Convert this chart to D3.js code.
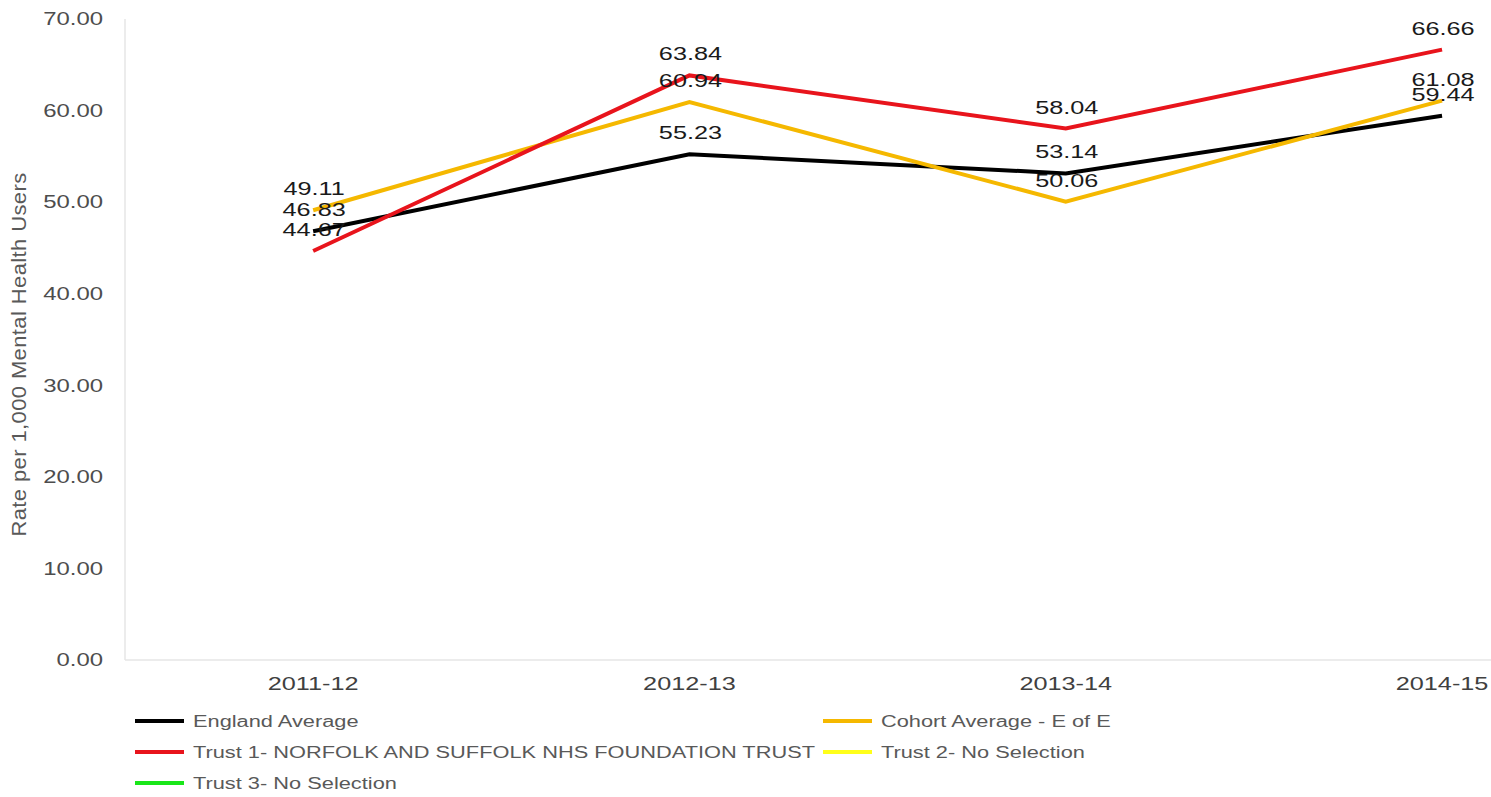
<!DOCTYPE html>
<html>
<head>
<meta charset="utf-8">
<script src="https://cdn.jsdelivr.net/npm/d3@7"></script>
<style>
  html, body { margin: 0; padding: 0; background: #fff; }
  svg { display: block; font-family: "Liberation Sans", Arial, Helvetica, sans-serif; }
</style>
</head>
<body>
<svg id="chart" width="1491" height="797"></svg>
<script>
// Years on the category axis
const years = ["2011-12", "2012-13", "2013-14", "2014-15"];

// Rate per 1,000 mental health users, by series
const englandAverage = [46.83, 55.23, 53.14, 59.44];
const trust1 = [44.67, 63.84, 58.04, 66.66];
const cohortAverage = [49.11, 60.94, 50.06, 61.08];
const trust2 = [];
const trust3 = [];

// Value axis ticks
const yTicks = [0, 10, 20, 30, 40, 50, 60, 70];

const seriesNames = [
  "England Average",
  "Cohort Average - E of E",
  "Trust 1- NORFOLK AND SUFFOLK NHS FOUNDATION TRUST",
  "Trust 2- No Selection",
  "Trust 3- No Selection"
];
const seriesColors = ["#000000", "#f5b800", "#e8141c", "#ffff1a", "#19e619"];
const seriesValues = [englandAverage, cohortAverage, trust1, trust2, trust3];

const series = seriesNames.map((name, i) => ({
  name,
  color: seriesColors[i],
  values: seriesValues[i].map((v, j) => ({ year: years[j], value: v }))
}));

const svg = d3.select("#chart");

const plotLeft = 125, plotTop = 19, plotBottom = 660;
const bandStep = 376.3;
// Horizontal text stretch used throughout the chart's lettering
const SX = 1.33;

// Widen text horizontally while keeping its anchor point in place
function widen(sel) {
  sel.each(function () {
    const t = d3.select(this);
    const x0 = +t.attr("x") || 0;
    t.attr("x", x0 / SX).attr("transform", `scale(${SX},1)`);
  });
}

const x = d3.scaleBand()
  .domain(years)
  .range([plotLeft, plotLeft + bandStep * years.length])
  .padding(0);
const xc = d => x(d) + x.bandwidth() / 2;

const y = d3.scaleLinear().domain([0, 70]).range([plotBottom, plotTop]);

// Axis frame lines
svg.append("line")
  .attr("x1", plotLeft).attr("x2", plotLeft)
  .attr("y1", plotTop).attr("y2", plotBottom)
  .attr("stroke", "#e6e6e6").attr("stroke-width", 1.5);
svg.append("line")
  .attr("x1", plotLeft).attr("x2", 1491)
  .attr("y1", plotBottom).attr("y2", plotBottom)
  .attr("stroke", "#e6e6e6").attr("stroke-width", 1.5);

// Value axis labels
const yAxis = d3.axisLeft(y)
  .tickValues(yTicks)
  .tickFormat(d3.format(".2f"))
  .tickSize(0)
  .tickPadding(22);
const yg = svg.append("g").attr("transform", `translate(${plotLeft},0)`).call(yAxis);
yg.select(".domain").remove();
yg.selectAll("text")
  .attr("fill", "#4d4d4d")
  .style("font-size", "18px")
  .call(widen);

// Category axis labels
const xAxis = d3.axisBottom(x).tickSize(0).tickPadding(17);
const xg = svg.append("g").attr("transform", `translate(0,${plotBottom})`).call(xAxis);
xg.select(".domain").remove();
xg.selectAll("text")
  .attr("fill", "#404040")
  .style("font-size", "19px")
  .call(widen);

// Axis title
svg.append("text")
  .attr("transform", `translate(26,${(plotTop + plotBottom) / 2 + 15}) rotate(-90) scale(1,0.9)`)
  .attr("text-anchor", "middle")
  .attr("fill", "#595959")
  .style("font-size", "22px")
  .style("letter-spacing", "0.4px")
  .text("Rate per 1,000 Mental Health Users");

// Lines
const line = d3.line()
  .x(d => xc(d.year))
  .y(d => y(d.value));

svg.append("g").selectAll("path")
  .data(series.filter(s => s.values.length))
  .join("path")
  .attr("d", s => line(s.values))
  .attr("fill", "none")
  .attr("stroke", s => s.color)
  .attr("stroke-width", 4)
  .attr("stroke-linejoin", "miter");

// Data labels above each point
const labelData = series.flatMap(s => s.values);
svg.append("g").selectAll("text")
  .data(labelData)
  .join("text")
  .attr("x", d => xc(d.year) + 1)
  .attr("y", d => y(d.value) - 15)
  .attr("text-anchor", "middle")
  .attr("fill", "#1a1a1a")
  .style("font-size", "19px")
  .text(d => d3.format(".2f")(d.value))
  .call(widen);

// Legend
const legendPos = [
  [135, 721], [823, 721],
  [135, 752], [823, 752],
  [135, 783]
];
const legend = svg.append("g").selectAll("g")
  .data(series)
  .join("g")
  .attr("transform", (d, i) => `translate(${legendPos[i][0]},${legendPos[i][1]})`);
legend.append("line")
  .attr("x1", 0).attr("x2", 49)
  .attr("stroke", d => d.color)
  .attr("stroke-width", 4);
legend.append("text")
  .attr("x", 58).attr("y", 6)
  .attr("fill", "#595959")
  .style("font-size", "16.4px")
  .text(d => d.name)
  .call(widen);
</script>
</body>
</html>
